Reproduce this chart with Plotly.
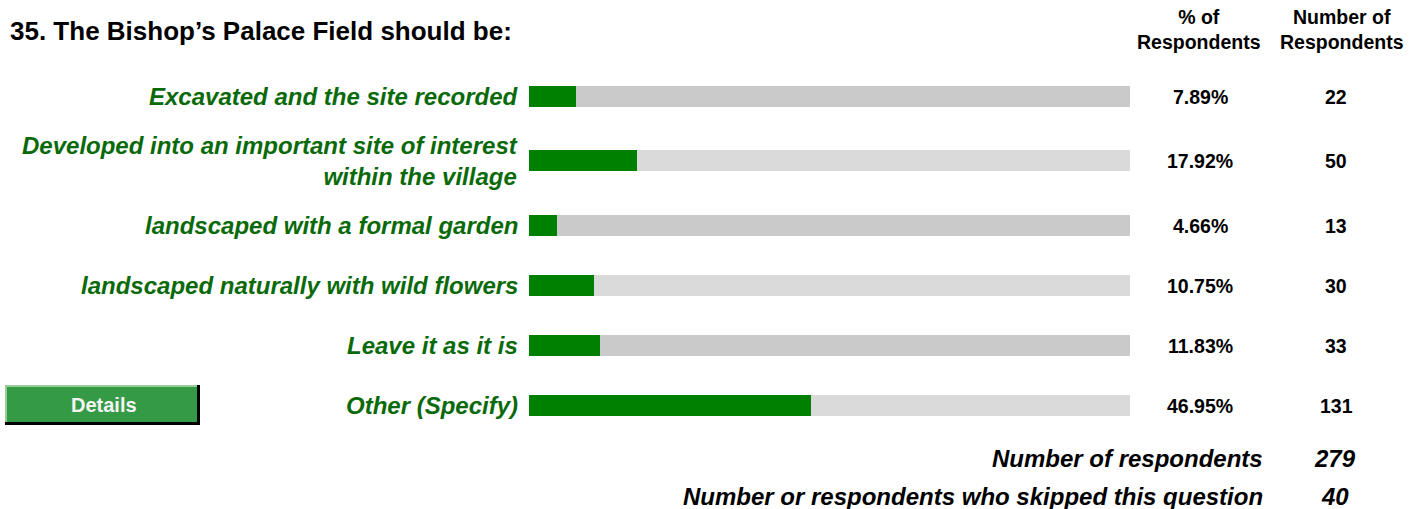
import plotly.graph_objects as go

# ---- data ----
title_text = "35. The Bishop\u2019s Palace Field should be:"
categories = [
    "Excavated and the site recorded",
    "Developed into an important site of interest<br>within the village",
    "landscaped with a formal garden",
    "landscaped naturally with wild flowers",
    "Leave it as it is",
    "Other (Specify)",
]
percent_values = [7.89, 17.92, 4.66, 10.75, 11.83, 46.95]
respondent_counts = [22, 50, 13, 30, 33, 131]
header_pct = "% of<br>Respondents"
header_count = "Number of<br>Respondents"
footer_labels = ["Number of respondents", "Number or respondents who skipped this question"]
footer_values = [279, 40]
button_text = "Details"

# ---- layout (pixel positions) ----
W, H = 1415, 509
row_y = [96.5, 160.5, 225.5, 285.5, 345.5, 405.5]
bar_left, bar_right = 529, 1130
bar_h = 21
track_colors = ["#cacaca", "#dadada"]
green = "#008000"
label_green = "#0a6a0a"
font_family = "Liberation Sans, Arial, sans-serif"

fig = go.Figure()

# background tracks (full 100%)
fig.add_trace(go.Bar(
    x=[100] * len(categories), y=row_y, orientation="h", width=bar_h,
    marker=dict(color=[track_colors[i % 2] for i in range(len(categories))], line=dict(width=0)),
    hoverinfo="skip", showlegend=False,
))
# value bars
fig.add_trace(go.Bar(
    x=percent_values, y=row_y, orientation="h", width=bar_h,
    marker=dict(color=green, line=dict(width=0)),
    hoverinfo="skip", showlegend=False,
))

ann = []
# title
ann.append(dict(x=8 / W, y=31, xref="paper", yref="y", text=f"<b>{title_text}</b>",
                xanchor="left", yanchor="middle", showarrow=False,
                font=dict(family=font_family, size=26, color="#000000")))
# headers
for txt, cx in [(header_pct, 1199), (header_count, 1342)]:
    ann.append(dict(x=cx / W, y=29, xref="paper", yref="y", text=f"<b>{txt}</b>",
                    xanchor="center", yanchor="middle", align="center", showarrow=False,
                    font=dict(family=font_family, size=19.5, color="#000000")))
# category labels and values
for cat, yv, p, n in zip(categories, row_y, percent_values, respondent_counts):
    ann.append(dict(x=520 / W, y=yv, xref="paper", yref="y", text=f"<b><i>{cat}</i></b>",
                    xanchor="right", yanchor="middle", align="right", showarrow=False,
                    font=dict(family=font_family, size=24, color=label_green)))
    ann.append(dict(x=1200 / W, y=yv, xref="paper", yref="y", text=f"<b>{p:.2f}%</b>",
                    xanchor="center", yanchor="middle", showarrow=False,
                    font=dict(family=font_family, size=19.5, color="#000000")))
    ann.append(dict(x=1336 / W, y=yv, xref="paper", yref="y", text=f"<b>{n}</b>",
                    xanchor="center", yanchor="middle", showarrow=False,
                    font=dict(family=font_family, size=19.5, color="#000000")))
# footer
for lab, val, yv in zip(footer_labels, footer_values, [458, 496]):
    ann.append(dict(x=1265 / W, y=yv, xref="paper", yref="y", text=f"<b><i>{lab}</i></b>",
                    xanchor="right", yanchor="middle", showarrow=False,
                    font=dict(family=font_family, size=24, color="#000000")))
    ann.append(dict(x=1335 / W, y=yv, xref="paper", yref="y", text=f"<b><i>{val}</i></b>",
                    xanchor="center", yanchor="middle", showarrow=False,
                    font=dict(family=font_family, size=24, color="#000000")))
# button text
ann.append(dict(x=104 / W, y=405, xref="paper", yref="y", text=f"<b>{button_text}</b>",
                xanchor="center", yanchor="middle", showarrow=False,
                font=dict(family=font_family, size=20, color="#f4f4f4")))

# Details button shapes
shapes = [
    dict(type="rect", xref="paper", yref="y", x0=5 / W, x1=200 / W, y0=385, y1=425,
         fillcolor="#000000", line=dict(width=0), layer="below"),
    dict(type="rect", xref="paper", yref="y", x0=5 / W, x1=197 / W, y0=385, y1=422,
         fillcolor="#99cc99", line=dict(width=0), layer="below"),
    dict(type="rect", xref="paper", yref="y", x0=7 / W, x1=197 / W, y0=387, y1=422,
         fillcolor="#349a45", line=dict(width=0), layer="below"),
]

fig.update_layout(
    width=W, height=H,
    margin=dict(l=0, r=0, t=0, b=0),
    paper_bgcolor="white", plot_bgcolor="white",
    barmode="overlay", bargap=0,
    xaxis=dict(domain=[bar_left / W, bar_right / W], range=[0, 100], visible=False, fixedrange=True),
    yaxis=dict(domain=[0, 1], range=[H, 0], visible=False, fixedrange=True),
    annotations=ann, shapes=shapes,
    showlegend=False,
)

fig.write_html("out.html", config={"displayModeBar": False})
